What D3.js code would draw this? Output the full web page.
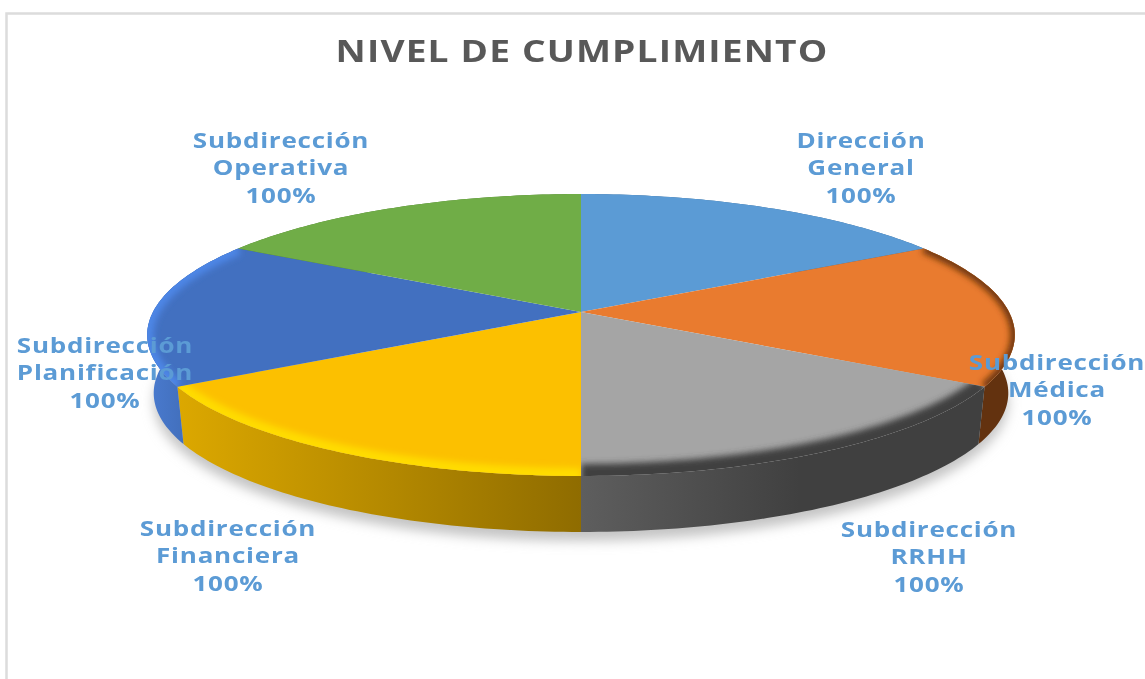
<!DOCTYPE html>
<html><head><meta charset="utf-8">
<script src="https://cdn.jsdelivr.net/npm/d3@7"></script>
<style>html,body{margin:0;padding:0;background:#fff;overflow:hidden}svg{display:block}</style>
</head><body><svg id="c" width="1145" height="679"></svg>
<script>
const chartTitle = "NIVEL DE CUMPLIMIENTO";
const categories = [["Dirección","General"],["Subdirección","Médica"],["Subdirección","RRHH"],["Subdirección","Financiera"],["Subdirección","Planificación"],["Subdirección","Operativa"]];
const values = [100,100,100,100,100,100];
const topColors = ["#5b9bd5","#e97b2f","#a5a5a5","#fcc000","#4270c0","#70ad47"];
const rimColors = [null,"#6b3510","#3f3f3f","#ffdc00","#4d86e6",null];
const rimWidths = [0,9,24,16,13,0];
const sideFrom = ["#3a6a96","#63320f","#5e5e5e","#dcA800","#4a7bd0","#4d7a30"];
const sideTo = ["#3a6a96","#63320f","#404040","#8f6c00","#365e9f","#4d7a30"];
const labelX = [861,1057,929,228,105,281];
const labelY = [140,362,529,528,345,140];

const svg = d3.select("#c");
const cx=581, cy=312, a=428, b=137.2, p=0.163;
const project=(t,k=1,dy=0)=>{const u=Math.sin(t),v=-Math.cos(t),s=1/(1-p*v);return [cx+a*k*u*s,cy+dy+b*k*v*s];};
const arcs=d3.pie().sort(null).value(d=>d)(values);
const line=d3.line();
const steps=(s,e)=>d3.range(0,61).map(i=>s+(e-s)*i/60);
const lowK=.985, lowDy=58.5;
const defs=svg.append("defs");
defs.append("filter").attr("id","sh").attr("x","-10%").attr("y","-10%").attr("width","120%").attr("height","130%")
  .append("feGaussianBlur").attr("stdDeviation",6);
defs.append("filter").attr("id","bev").attr("x","-10%").attr("y","-10%").attr("width","120%").attr("height","120%")
  .append("feGaussianBlur").attr("stdDeviation",3);
defs.append("filter").attr("id","soft").append("feGaussianBlur").attr("stdDeviation",0.5);

// frame
svg.append("path").attr("d","M6.5,679V13.5H1145").attr("fill","none").attr("stroke","#dcdcdc").attr("stroke-width",2.5);

// ground shadow
svg.append("path").attr("d",line(steps(Math.PI*.45,Math.PI*1.55).map(t=>project(t,lowK,lowDy+9)))+"Z")
  .attr("fill","#c4c4c4").attr("filter","url(#sh)");

// side walls
arcs.forEach((d,i)=>{
  const s=d.startAngle,e=d.endAngle;
  const pts=steps(s,e);
  const xs=pts.map(t=>project(t)[0]);
  const g=defs.append("linearGradient").attr("id","sg"+i).attr("gradientUnits","userSpaceOnUse")
    .attr("x1",i==2?581:d3.min(xs)).attr("x2",i==2?800:(i==3?581:d3.max(xs))).attr("y1",0).attr("y2",0);
  g.append("stop").attr("offset",0).attr("stop-color",sideFrom[i]);
  g.append("stop").attr("offset",1).attr("stop-color",sideTo[i]);
  const poly=pts.map(t=>project(t)).concat(pts.slice().reverse().map(t=>project(t,lowK,lowDy)));
  svg.append("path").attr("d",line(poly)+"Z").attr("fill",`url(#sg${i})`);
});

// top faces
arcs.forEach((d,i)=>{
  const pts=steps(d.startAngle,d.endAngle).map(t=>project(t));
  const shape=line([[cx,cy],...pts])+"Z";
  svg.append("path").attr("d",shape).attr("fill",topColors[i]);
  if(rimColors[i]){
    const id="cl"+i;
    defs.append("clipPath").attr("id",id).append("path").attr("d",shape);
    svg.append("g").attr("clip-path",`url(#${id})`).append("path").attr("d",line(pts))
      .attr("fill","none").attr("stroke",rimColors[i]).attr("stroke-width",rimWidths[i])
      .attr("filter","url(#bev)");
  }
});

// title
svg.append("text").attr("transform","translate(582,62) scale(1.26,1)").attr("text-anchor","middle")
  .attr("font-family","'Open Sans'").attr("font-weight",700).attr("font-size",29.5)
  .attr("letter-spacing",0.9).attr("fill","#595959").attr("filter","url(#soft)").text(chartTitle);

// data labels
categories.forEach((c,i)=>{
  const rows=[c[0],c[1],values[i]+"%"];
  rows.forEach((r,j)=>{
    svg.append("text").attr("transform",`translate(${labelX[i]},${labelY[i]+j*27.7+7.5}) scale(1.24,1)`).attr("text-anchor","middle")
      .attr("font-family","'Open Sans'").attr("font-weight",700).attr("font-size",21)
      .attr("letter-spacing",0.6).attr("fill","#5b9bd5").attr("filter","url(#soft)").text(r);
  });
});
</script></body></html>
